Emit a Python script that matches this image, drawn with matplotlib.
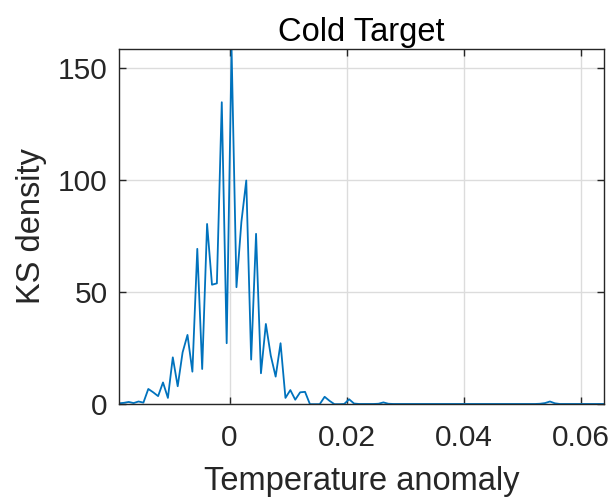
import matplotlib.pyplot as plt
import numpy as np

# KS density evaluated on an even grid between the data limits
x_min, x_max = -0.0189, 0.0639
density = [
    0.4, 0.6, 1.0, 0.5, 1.2, 0.7, 6.8, 5.3, 3.6, 9.7,
    2.8, 20.9, 8.0, 23.1, 30.9, 14.5, 69.3, 15.7, 80.4, 53.3,
    53.9, 134.7, 27.2, 158.5, 52.2, 81.2, 99.8, 19.9, 76.0, 13.8,
    35.8, 21.7, 12.3, 27.2, 2.8, 6.3, 2.0, 5.3, 5.5, 0.0,
    0.0, 0.0, 3.3, 1.5, 0.0, 0.0, 0.1, 2.2, 0.3, 0.1,
    0.1, 0.1, 0.1, 0.2, 0.8, 0.2, 0.1, 0.1, 0.1, 0.1,
    0.1, 0.1, 0.1, 0.1, 0.1, 0.1, 0.1, 0.1, 0.1, 0.1,
    0.1, 0.1, 0.1, 0.1, 0.1, 0.1, 0.1, 0.1, 0.1, 0.1,
    0.1, 0.1, 0.1, 0.1, 0.1, 0.1, 0.2, 0.5, 1.2, 0.4,
    0.1, 0.1, 0.1, 0.1, 0.1, 0.1, 0.1, 0.1, 0.1, 0.1,
]
x_ticks = [0, 0.02, 0.04, 0.06]
x_tick_labels = ["0", "0.02", "0.04", "0.06"]
y_ticks = [0, 50, 100, 150]

dark = "#262626"
plt.rcParams["font.family"] = ["Liberation Sans", "DejaVu Sans"]

x = np.linspace(x_min, x_max, len(density))

fig = plt.figure(figsize=(6.13, 4.99), dpi=100)
ax = fig.add_axes([0.194, 0.190, 0.791, 0.712])
ax.plot(x, density, color="#0072BD", linewidth=1.3)

ax.set_xlim(x_min, x_max)
ax.set_ylim(0, max(density))
ax.set_xticks(x_ticks)
ax.set_xticklabels(x_tick_labels)
ax.set_yticks(y_ticks)
ax.grid(True, color="#dcdcdc", linewidth=1.0)
ax.set_axisbelow(True)

ax.tick_params(direction="in", length=5, width=1.0, colors=dark,
               labelsize=21.5, top=True, right=True)
ax.tick_params(axis="x", pad=14)
ax.tick_params(axis="y", pad=8)
for s in ax.spines.values():
    s.set_color(dark)
    s.set_linewidth(1.0)

ax.set_xlabel("Temperature anomaly", fontsize=23.5, color=dark, labelpad=10)
ax.set_ylabel("KS density", fontsize=23.5, color=dark, labelpad=8)
ax.set_title("Cold Target", fontsize=23.5, color="black", pad=6)

fig.savefig("out.png", dpi=100)
